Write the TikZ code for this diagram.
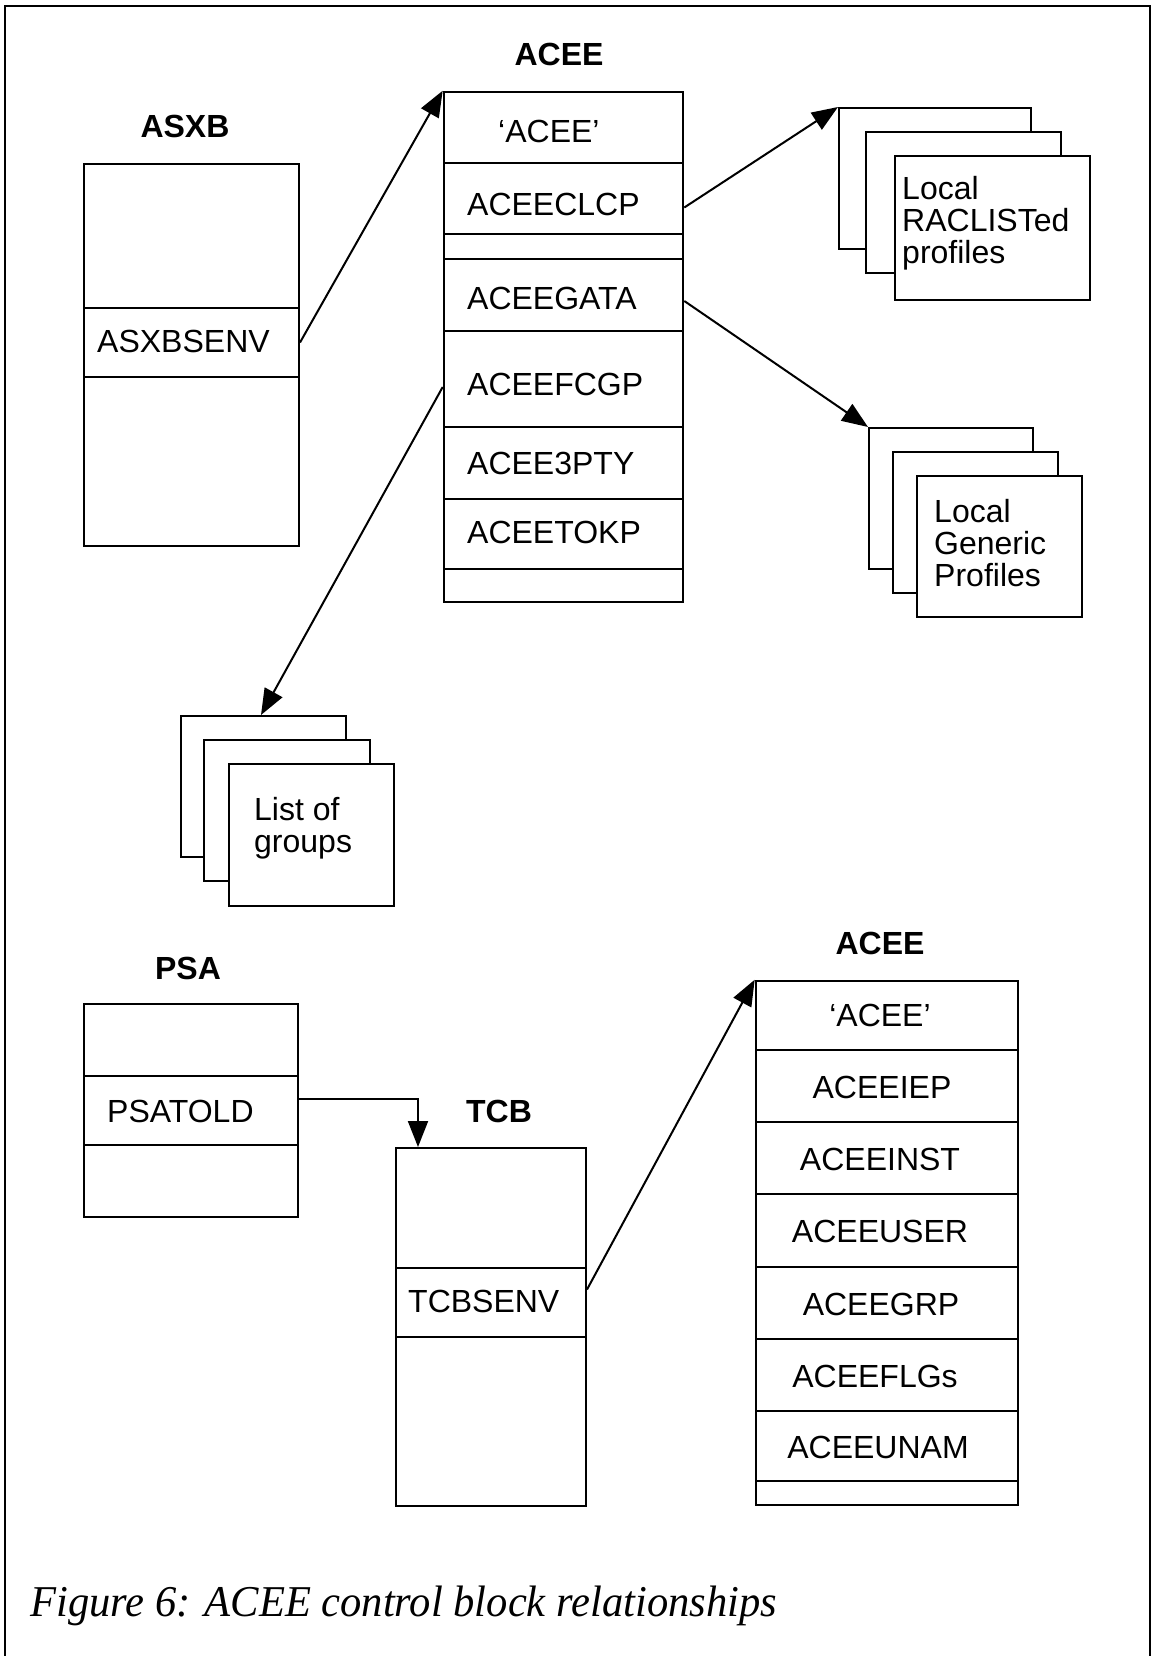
\documentclass[tikz,border=0pt]{standalone}
\usepackage{fontspec}
\setmainfont{Liberation Sans}
\newfontfamily\capfont{Liberation Serif}
\usetikzlibrary{arrows.meta,fit}
\begin{document}
\begin{tikzpicture}[x=1pt,y=-1pt,
  box/.style={draw, line width=2pt, inner sep=0pt, fill=white},
  accell/.style={draw, line width=2.6pt, inner sep=0pt},
  fld/.style={font=\fontsize{32}{32}\selectfont, inner sep=0pt, anchor=base west},
  fldc/.style={font=\fontsize{32}{32}\selectfont, inner sep=0pt, anchor=base},
  ttl/.style={font=\fontsize{32}{32}\selectfont\bfseries, inner sep=0pt, anchor=base},
  arr/.style={line width=2pt, -{Triangle[length=26pt,width=20pt]}}]
\useasboundingbox (0,0) rectangle (1152,1656);
% frame
\draw[line width=2.5pt] (5,1660) -- (5,6) -- (1150,6) -- (1150,1660);

% ---------- upper ACEE ----------
\node[ttl] (aceeT) at (559,66) {ACEE};
\node[accell, fit={(444,92)(683,163)}] (a1) {};
\node[accell, fit={(444,163)(683,234)}] (a2) {};
\node[accell, fit={(444,234)(683,259)}] (a3) {};
\node[accell, fit={(444,259)(683,331)}] (a4) {};
\node[accell, fit={(444,331)(683,427)}] (a5) {};
\node[accell, fit={(444,427)(683,499)}] (a6) {};
\node[accell, fit={(444,499)(683,569)}] (a7) {};
\node[accell, fit={(444,569)(683,602)}] (a8) {};
\node[fld] (ta1) at (498,143) {‘ACEE’};
\node[fld] (ta2) at (467,215) {ACEECLCP};
\node[fld] (ta4) at (467,309) {ACEEGATA};
\node[fld] (ta5) at (467,395) {ACEEFCGP};
\node[fld] (ta6) at (467,474) {ACEE3PTY};
\node[fld] (ta7) at (467,543) {ACEETOKP};

% ---------- ASXB ----------
\node[ttl] (asxbT) at (185,138) {ASXB};
\node[box, fit={(84,164)(299,308)}] (x1) {};
\node[box, fit={(84,308)(299,377)}] (x2) {};
\node[box, fit={(84,377)(299,546)}] (x3) {};
\node[fld] (tx2) at (97,352) {ASXBSENV};

% ---------- Local RACLISTed profiles ----------
\node[box, fit={(839,108)(1031,249)}] (r1) {};
\node[box, fit={(866,132)(1061,273)}] (r2) {};
\node[box, fit={(895,156)(1090,300)}] (r3) {};
\node[fld] (tr) at (902,200) {\vtop{\baselineskip=32pt\hbox{Local}\hbox{RACLISTed}\hbox{profiles}}};

% ---------- Local Generic Profiles ----------
\node[box, fit={(869,428)(1033,569)}] (g1) {};
\node[box, fit={(893,452)(1058,593)}] (g2) {};
\node[box, fit={(917,476)(1082,617)}] (g3) {};
\node[fld] (tg) at (934,522) {\vtop{\baselineskip=32pt\hbox{Local}\hbox{Generic}\hbox{Profiles}}};

% ---------- List of groups ----------
\node[box, fit={(181,716)(346,857)}] (l1) {};
\node[box, fit={(204,740)(370,881)}] (l2) {};
\node[box, fit={(229,764)(394,906)}] (l3) {};
\node[fld] (tl) at (254,820) {\vtop{\baselineskip=32pt\hbox{List of}\hbox{groups}}};

% ---------- PSA ----------
\node[ttl] (psaT) at (188,979) {PSA};
\node[box, fit={(84,1004)(298,1076)}] (p1) {};
\node[box, line width=2.6pt, fit={(84,1076)(298,1145)}] (p2) {};
\node[box, fit={(84,1145)(298,1217)}] (p3) {};
\node[fld] (tp2) at (107,1122) {PSATOLD};

% ---------- TCB ----------
\node[ttl] (tcbT) at (499,1122) {TCB};
\node[box, fit={(396,1148)(586,1268)}] (t1) {};
\node[box, fit={(396,1268)(586,1337)}] (t2) {};
\node[box, fit={(396,1337)(586,1506)}] (t3) {};
\node[fld] (tt2) at (408,1312) {TCBSENV};

% ---------- lower ACEE ----------
\node[ttl] (acee2T) at (880,954) {ACEE};
\node[accell, fit={(756,981)(1018,1050)}] (b1) {};
\node[accell, fit={(756,1050)(1018,1122)}] (b2) {};
\node[accell, fit={(756,1122)(1018,1194)}] (b3) {};
\node[accell, fit={(756,1194)(1018,1267)}] (b4) {};
\node[accell, fit={(756,1267)(1018,1339)}] (b5) {};
\node[accell, fit={(756,1339)(1018,1411)}] (b6) {};
\node[accell, fit={(756,1411)(1018,1481)}] (b7) {};
\node[accell, fit={(756,1481)(1018,1505)}] (b8) {};
\node[fldc] (tb1) at (880,1026) {‘ACEE’};
\node[fldc] (tb2) at (882,1098) {ACEEIEP};
\node[fldc] (tb3) at (880,1170) {ACEEINST};
\node[fldc] (tb4) at (880,1242) {ACEEUSER};
\node[fldc] (tb5) at (881,1315) {ACEEGRP};
\node[fldc] (tb6) at (875,1387) {ACEEFLGs};
\node[fldc] (tb7) at (878,1458) {ACEEUNAM};

% ---------- connectors ----------
\draw[arr] (x2.east) -- (a1.north west);
\draw[arr] ([yshift=-9pt]a2.east) -- (r1.north west);
\draw[arr] ([yshift=-6pt]a4.east) -- (g1.north west);
\draw[arr] ([yshift=-8pt]a5.west) -- ([xshift=81pt]l1.north west);
\draw[arr] ([yshift=12pt]p2.east) -| ([xshift=23pt]t1.north west);
\draw[arr] ([yshift=13pt]t2.east) -- (b1.north west);

% ---------- caption ----------
\node[font=\capfont\itshape\fontsize{44}{44}\selectfont, inner sep=0pt, anchor=base west, xscale=0.967] (cap) at (30,1616) {Figure 6: ACEE control block relationships};
\end{tikzpicture}
\end{document}
